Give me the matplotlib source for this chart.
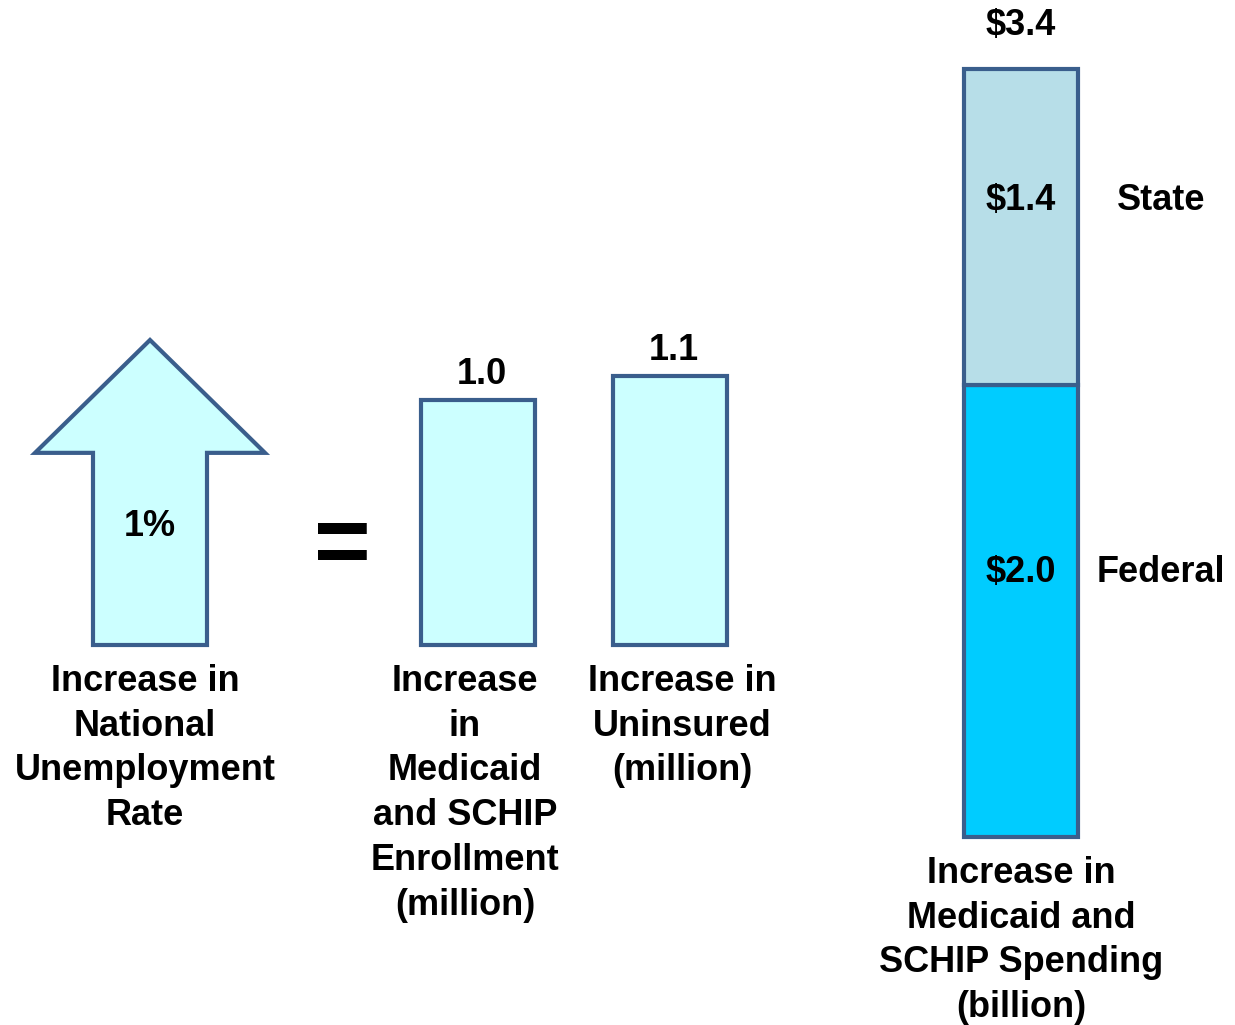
import matplotlib.pyplot as plt
from matplotlib.patches import FancyArrow

plt.rcParams['font.family'] = ['Liberation Sans', 'DejaVu Sans']
plt.rcParams['font.weight'] = 'bold'

W, H = 1235, 1025

# data
rate_rise = 1.0
rate_text = '1%'
rate_label = 'Increase in\nNational\nUnemployment\nRate'

count_labels = ['Increase\nin\nMedicaid\nand SCHIP\nEnrollment\n(million)',
                'Increase in\nUninsured\n(million)']
count_values = [1.0, 1.1]

spend_parts = ['Federal', 'State']
spend_values = [2.0, 1.4]
spend_label = 'Increase in\nMedicaid and\nSCHIP Spending\n(billion)'

EDGE = '#3A5E8C'
LIGHT = '#CCFFFF'
PART_COLORS = ['#00CCFF', '#B7DEE8']
LW = 3
LS = 1.36  # line spacing of the category labels


def box(left, top, width, height):
    # pixel box measured from the top-left corner -> figure fraction rect
    return [left / W, (H - top - height) / H, width / W, height / H]


def fx(x):
    return x / W


def fy(y):
    return 1 - y / H


fig = plt.figure(figsize=(W / 100, H / 100), dpi=100)

# unemployment arrow
ax_a = fig.add_axes(box(0, 340, 300, 305))
ax_a.set_xlim(-1, 1)
ax_a.set_ylim(0, rate_rise)
ax_a.axis('off')
arrow = FancyArrow(0, 0, 0, rate_rise, width=0.76, head_width=1.533,
                   head_length=0.37 * rate_rise, length_includes_head=True,
                   facecolor=LIGHT, edgecolor=EDGE, linewidth=LW,
                   joinstyle='miter', clip_on=False)
ax_a.add_patch(arrow)
ax_a.text(0, 0.39 * rate_rise, rate_text, ha='center', va='center', fontsize=26)

fig.text(fx(342), fy(549), '=', ha='center', va='center', fontsize=70)

# enrollment / uninsured bars
ax_c = fig.add_axes(box(382, 645 - 367.5, 384, 367.5))
ax_c.set_xlim(-0.5, 1.5)
ax_c.set_ylim(0, 1.5)
ax_c.axis('off')
xs = range(len(count_values))
ax_c.bar(xs, count_values, width=0.594, color=LIGHT, edgecolor=EDGE,
         linewidth=LW, clip_on=False)
for x, v in zip(xs, count_values):
    ax_c.annotate(f'{v:.1f}', (x, v), xytext=(3, 11.5), textcoords='offset points',
                  ha='center', va='baseline', fontsize=26)

# spending stacked bar
ax_s = fig.add_axes(box(921, 69, 200, 768))
ax_s.set_xlim(-0.5, 0.5)
ax_s.set_ylim(0, sum(spend_values))
ax_s.axis('off')
bottom = 0
for name, v, c in zip(spend_parts, spend_values, PART_COLORS):
    ax_s.bar(0, v, bottom=bottom, width=0.57, color=c, edgecolor=EDGE,
             linewidth=LW, clip_on=False)
    ax_s.text(0, bottom + 0.585 * v, f'${v:.1f}', ha='center', va='center', fontsize=26)
    ax_s.text(0.70, bottom + 0.585 * v, name, ha='center', va='center', fontsize=26,
              clip_on=False)
    bottom += v
ax_s.annotate(f'${bottom:.1f}', (0, bottom), xytext=(0, 24.5), textcoords='offset points',
              ha='center', va='baseline', fontsize=26, annotation_clip=False)

# category labels
fig.text(fx(145), fy(664), rate_label, ha='center', va='top', fontsize=26,
         linespacing=LS)
fig.text(fx(465), fy(664), count_labels[0], ha='center', va='top', fontsize=26,
         linespacing=LS)
fig.text(fx(682), fy(664), count_labels[1], ha='center', va='top', fontsize=26,
         linespacing=LS)
fig.text(fx(1021), fy(856), spend_label, ha='center', va='top', fontsize=26,
         linespacing=LS)

fig.savefig('out.png', dpi=100)
